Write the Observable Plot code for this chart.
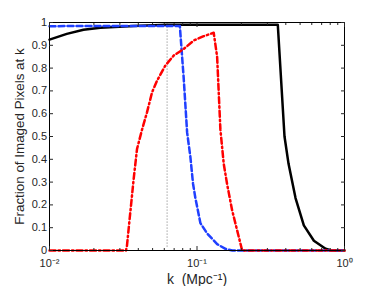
<!DOCTYPE html>
<html><head><meta charset="utf-8">
<script src="https://cdn.jsdelivr.net/npm/d3@7"></script>
<script src="https://cdn.jsdelivr.net/npm/@observablehq/plot@0.6"></script>
<style>body{margin:0;background:#fff}svg{display:block}</style>
</head><body><div id="chart"></div>
<script>
// Black solid series
const blackK = [0.01, 0.0131, 0.017, 0.0221, 0.0372, 0.0627, 0.353, 0.392, 0.4175, 0.4656, 0.53, 0.62, 0.744, 0.817, 1];
const blackF = [0.925, 0.95, 0.968, 0.977, 0.985, 0.99, 0.99, 0.5, 0.38, 0.23, 0.11, 0.043, 0.008, 0, 0];
// Blue dashed series
const blueK = [0.01, 0.0765, 0.0813, 0.0857, 0.0902, 0.094, 0.0975, 0.1055, 0.1171, 0.137, 0.156, 0.1738, 1];
const blueF = [0.984, 0.985, 0.753, 0.518, 0.41, 0.293, 0.23, 0.12, 0.075, 0.028, 0.007, 0, 0];
// Red dash-dot series
const redK = [0.01, 0.033, 0.0335, 0.0353, 0.0372, 0.0392, 0.0424, 0.0458, 0.0496, 0.0536, 0.061, 0.0695, 0.0813, 0.095, 0.111, 0.1298, 0.1369, 0.1441, 0.1518, 0.1601, 0.1731, 0.1872, 0.1971, 0.2024, 1];
const redF = [0, 0, 0.02, 0.167, 0.313, 0.445, 0.53, 0.606, 0.694, 0.745, 0.811, 0.855, 0.884, 0.921, 0.94, 0.955, 0.85, 0.53, 0.38, 0.29, 0.176, 0.088, 0.03, 0, 0];
// Vertical dotted marker
const markerK = [0.0627];
// Ticks
const yTicks = [0, 0.1, 0.2, 0.3, 0.4, 0.5, 0.6, 0.7, 0.8, 0.9, 1];
const majorK = [0.01, 0.1, 1];
const majorLabels = ["10\u207B\u00B2", "10\u207B\u00B9", "10\u2070"];
const minorK = [0.02, 0.03, 0.04, 0.05, 0.06, 0.07, 0.08, 0.09, 0.2, 0.3, 0.4, 0.5, 0.6, 0.7, 0.8, 0.9];

const toRows = (ks, fs) => ks.map((k, i) => ({k, f: fs[i]}));
const black = toRows(blackK, blackF);
const blue = toRows(blueK, blueF);
const red = toRows(redK, redF);

const chart = Plot.plot({
  width: 381, height: 286,
  marginLeft: 49, marginRight: 37, marginTop: 22, marginBottom: 36,
  style: {fontFamily: "'Liberation Sans', Arial, sans-serif", fontSize: "11px", color: "#262626", background: "#fff"},
  x: {type: "log", domain: [0.01, 1]},
  y: {domain: [0, 1]},
  marks: [
    Plot.ruleX(markerK, {x: d => d, y1: 0.015, y2: 1, stroke: "#777", strokeWidth: 1, strokeDasharray: "1,2"}),
    Plot.line(black, {x: "k", y: "f", stroke: "#000", strokeWidth: 2.5}),
    Plot.line(blue, {x: "k", y: "f", stroke: "#1f3fff", strokeWidth: 2.5, strokeDasharray: "6,3"}),
    Plot.line(red, {x: "k", y: "f", stroke: "#ff0000", strokeWidth: 2.5, strokeDasharray: "6,3,1.5,3"}),
    Plot.frame({stroke: "#000", strokeWidth: 1}),
    Plot.axisY({anchor: "left", ticks: yTicks, tickSize: -4, tickPadding: 6.5, tickFormat: d => String(+d.toFixed(1)), fontSize: 11, label: null}),
    Plot.axisY({anchor: "left", ticks: [], tickSize: 0, label: "Fraction of Imaged Pixels at k", labelAnchor: "center", labelArrow: "none", labelOffset: 35, fontSize: 13.4}),
    Plot.axisY({anchor: "right", ticks: yTicks, tickSize: -4, tickFormat: () => "", label: null}),
    Plot.axisX({anchor: "bottom", ticks: majorK, tickSize: -4, tickPadding: 13, tickFormat: (d) => majorLabels[majorK.indexOf(d)], fontSize: 11, label: null}),
    Plot.axisX({anchor: "bottom", ticks: [], tickSize: 0, label: "k  (Mpc\u207B\u00B9)", labelAnchor: "center", labelArrow: "none", labelOffset: 33, fontSize: 14}),
    Plot.axisX({anchor: "bottom", ticks: minorK, tickSize: -2, tickFormat: () => "", label: null}),
    Plot.axisX({anchor: "top", ticks: majorK, tickSize: -4, tickFormat: () => "", label: null}),
    Plot.axisX({anchor: "top", ticks: minorK, tickSize: -2, tickFormat: () => "", label: null})
  ]
});
document.getElementById("chart").append(chart);
</script>
</body></html>
